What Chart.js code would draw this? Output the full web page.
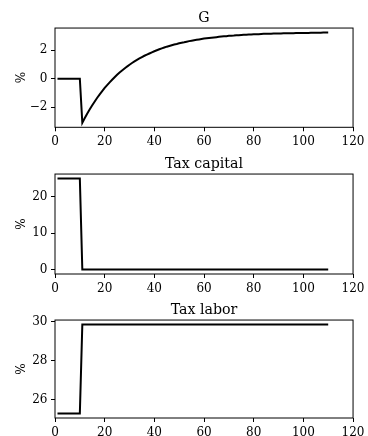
<!DOCTYPE html>
<html>
<head>
<meta charset="utf-8">
<script src="https://cdn.jsdelivr.net/npm/chart.js@4.4.1/dist/chart.umd.min.js"></script>
<style>
  html, body { margin: 0; padding: 0; background: #fff; width: 368px; height: 436px; overflow: hidden; }
  .panel { position: absolute; left: 0; width: 368px; height: 146px; }
</style>
</head>
<body>
<div class="panel" style="top:0px"><canvas id="gov" width="368" height="146"></canvas></div>
<div class="panel" style="top:146px"><canvas id="capital" width="368" height="146"></canvas></div>
<div class="panel" style="top:292px"><canvas id="labor" width="368" height="146"></canvas></div>
<script>
// Simulation periods 1..110
const periods = Array.from({ length: 110 }, (_, i) => i + 1);

// Government spending deviation (%)
const govSpending = [
  0, 0, 0, 0, 0, 0, 0, 0, 0, 0,
  -3.10, -2.77, -2.45, -2.15, -1.87, -1.60, -1.34, -1.10, -0.88, -0.65,
  -0.45, -0.26, -0.08, 0.10, 0.27, 0.43, 0.57, 0.71, 0.85, 0.98,
  1.10, 1.21, 1.32, 1.42, 1.52, 1.61, 1.69, 1.77, 1.85, 1.93,
  2.00, 2.07, 2.13, 2.19, 2.25, 2.30, 2.35, 2.40, 2.44, 2.49,
  2.53, 2.56, 2.60, 2.64, 2.67, 2.70, 2.73, 2.76, 2.79, 2.82,
  2.84, 2.86, 2.88, 2.90, 2.92, 2.94, 2.96, 2.98, 2.99, 3.01,
  3.02, 3.03, 3.05, 3.06, 3.07, 3.08, 3.09, 3.10, 3.11, 3.12,
  3.12, 3.13, 3.14, 3.15, 3.15, 3.16, 3.16, 3.17, 3.17, 3.18,
  3.18, 3.19, 3.19, 3.20, 3.20, 3.20, 3.21, 3.21, 3.21, 3.22,
  3.22, 3.22, 3.23, 3.23, 3.23, 3.23, 3.23, 3.24, 3.24, 3.24
];

// Capital income tax rate (%)
const taxCapital = [
  25, 25, 25, 25, 25, 25, 25, 25, 25, 25,
  0, 0, 0, 0, 0, 0, 0, 0, 0, 0,
  0, 0, 0, 0, 0, 0, 0, 0, 0, 0,
  0, 0, 0, 0, 0, 0, 0, 0, 0, 0,
  0, 0, 0, 0, 0, 0, 0, 0, 0, 0,
  0, 0, 0, 0, 0, 0, 0, 0, 0, 0,
  0, 0, 0, 0, 0, 0, 0, 0, 0, 0,
  0, 0, 0, 0, 0, 0, 0, 0, 0, 0,
  0, 0, 0, 0, 0, 0, 0, 0, 0, 0,
  0, 0, 0, 0, 0, 0, 0, 0, 0, 0,
  0, 0, 0, 0, 0, 0, 0, 0, 0, 0
];

// Labor income tax rate (%)
const taxLabor = [
  25.3, 25.3, 25.3, 25.3, 25.3, 25.3, 25.3, 25.3, 25.3, 25.3,
  29.85, 29.85, 29.85, 29.85, 29.85, 29.85, 29.85, 29.85, 29.85, 29.85,
  29.85, 29.85, 29.85, 29.85, 29.85, 29.85, 29.85, 29.85, 29.85, 29.85,
  29.85, 29.85, 29.85, 29.85, 29.85, 29.85, 29.85, 29.85, 29.85, 29.85,
  29.85, 29.85, 29.85, 29.85, 29.85, 29.85, 29.85, 29.85, 29.85, 29.85,
  29.85, 29.85, 29.85, 29.85, 29.85, 29.85, 29.85, 29.85, 29.85, 29.85,
  29.85, 29.85, 29.85, 29.85, 29.85, 29.85, 29.85, 29.85, 29.85, 29.85,
  29.85, 29.85, 29.85, 29.85, 29.85, 29.85, 29.85, 29.85, 29.85, 29.85,
  29.85, 29.85, 29.85, 29.85, 29.85, 29.85, 29.85, 29.85, 29.85, 29.85,
  29.85, 29.85, 29.85, 29.85, 29.85, 29.85, 29.85, 29.85, 29.85, 29.85,
  29.85, 29.85, 29.85, 29.85, 29.85, 29.85, 29.85, 29.85, 29.85, 29.85
];

// Tick values
const xTicks = [0, 20, 40, 60, 80, 100, 120];
const govTicks = [-2, 0, 2];
const capitalTicks = [0, 10, 20];
const laborTicks = [26, 28, 30];

const FONT = "'DejaVu Serif', 'Liberation Serif', serif";
const TICK_SIZE = 12;

// Closed black frame around the plotting area
const framePlugin = {
  id: 'frame',
  afterDraw(chart) {
    const { ctx, chartArea: a } = chart;
    ctx.save();
    ctx.strokeStyle = '#000';
    ctx.lineWidth = 1;
    ctx.strokeRect(a.left, a.top, a.right - a.left, a.bottom - a.top);
    ctx.restore();
  }
};

const fmt = v => (v < 0 ? '\u2212' + Math.abs(v) : String(v));

function makePanel(id, title, values, yTicks, yMin, yMax, axisHeight) {
  new Chart(document.getElementById(id), {
    type: 'line',
    data: {
      datasets: [{
        data: periods.map((t, i) => ({ x: t, y: values[i] })),
        borderColor: '#000',
        borderWidth: 2,
        pointRadius: 0,
        tension: 0,
        fill: false
      }]
    },
    options: {
      responsive: false,
      animation: false,
      events: [],
      layout: { padding: { left: 0, right: 14, top: 0, bottom: 0 } },
      plugins: {
        legend: { display: false },
        tooltip: { enabled: false },
        title: {
          display: true,
          text: title,
          fullSize: false,
          color: '#000',
          font: { family: FONT, size: 14.2, weight: 'normal', lineHeight: 1.2 },
          padding: { top: 9.5, bottom: 1.5 }
        }
      },
      scales: {
        x: {
          type: 'linear',
          min: 0,
          max: 120,
          afterBuildTicks: s => { s.ticks = xTicks.map(v => ({ value: v })); },
          afterFit: s => { s.height = axisHeight; },
          border: { display: false },
          grid: { drawOnChartArea: false, drawTicks: true, tickLength: 4, color: '#000', lineWidth: 1 },
          ticks: { color: '#000', padding: 3.5, maxRotation: 0, font: { family: FONT, size: TICK_SIZE }, callback: fmt }
        },
        y: {
          type: 'linear',
          min: yMin,
          max: yMax,
          afterBuildTicks: s => { s.ticks = yTicks.map(v => ({ value: v })); },
          afterFit: s => { s.width = 55; },
          border: { display: false },
          grid: { drawOnChartArea: false, drawTicks: true, tickLength: 4, color: '#000', lineWidth: 1 },
          ticks: { color: '#000', padding: 3.5, font: { family: FONT, size: TICK_SIZE }, callback: fmt },
          title: {
            display: true,
            text: '%',
            color: '#000',
            font: { family: FONT, size: TICK_SIZE },
            padding: { top: 14.5, bottom: 0 }
          }
        }
      }
    },
    plugins: [framePlugin]
  });
}

makePanel('gov', 'G', govSpending, govTicks, -3.42, 3.56, 18.7);
makePanel('capital', 'Tax capital', taxCapital, capitalTicks, -1.25, 26.25, 18);
makePanel('labor', 'Tax labor', taxLabor, laborTicks, 25.07, 30.08, 20);
</script>
</body>
</html>
